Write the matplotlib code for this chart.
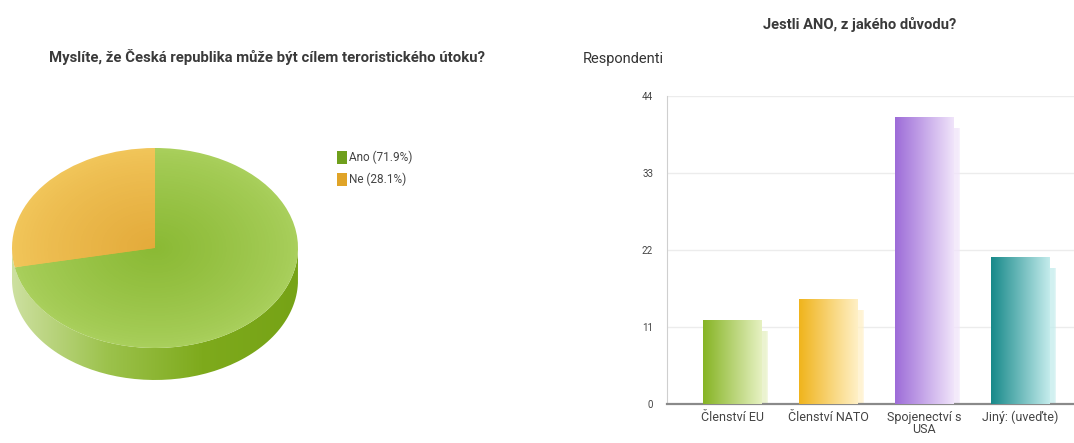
import numpy as np
import matplotlib.pyplot as plt
from matplotlib.patches import Patch
from matplotlib.path import Path
from matplotlib.colors import LinearSegmentedColormap, to_rgb

# data
pie_labels = ['Ano (71.9%)', 'Ne (28.1%)']
pie_values = [71.9, 28.1]

bar_labels = ['Členství EU', 'Členství NATO', 'Spojenectví s\nUSA', 'Jiný: (uveďte)']
bar_values = [12, 15, 41, 21]

pie_top = ['#a9cf5c', '#f1c55a']
pie_mid = ['#8ab934', '#e3aa3a']
pie_legend = ['#6f9f1c', '#e0a428']
bar_left = ['#86b424', '#f0b41c', '#9d6cd8', '#17898a']
bar_right = ['#e6f1c2', '#fff0c6', '#f0e4fa', '#c4ecec']

plt.rcParams['font.family'] = ['Roboto', 'DejaVu Sans']

W, H = 1074, 443
fig = plt.figure(figsize=(W / 100, H / 100), dpi=100)
fig.patch.set_facecolor('white')


def px_axes(x0, y0, x1, y1):
    # box in pixels, measured from the top left corner
    return fig.add_axes([x0 / W, 1 - y1 / H, (x1 - x0) / W, (y1 - y0) / H])


def mix(c1, c2, t):
    a, b = np.array(to_rgb(c1)), np.array(to_rgb(c2))
    return tuple(a + (b - a) * t)


# ---- 3d pie ----
cx, cy, rx, ry, depth = 155, 248, 143, 100, 32
ax1 = px_axes(cx - rx, cy - ry - 5, cx + rx, cy + ry + depth + 5)
ax1.set_axis_off()
dep = depth / ry

# side of the pie (horizontal gradient)
t = np.linspace(np.pi, 2 * np.pi, 100)
top_edge = np.column_stack([np.cos(t), np.sin(t)])
bot_edge = np.column_stack([np.cos(t[::-1]), np.sin(t[::-1]) - dep])
side = Path(np.vstack([top_edge, bot_edge, top_edge[:1]]))
side_cmap = LinearSegmentedColormap.from_list('side', ['#cde0a0', '#9cc24c', '#7eaa1c', '#76a316'])
im = ax1.imshow(np.linspace(0, 1, 256)[None, :], extent=[-1, 1, -1 - dep, 0.05],
                aspect='auto', cmap=side_cmap, zorder=1)
im.set_clip_path(side, transform=ax1.transData)

# top face with radial shading
for r in np.linspace(1, 0.02, 40):
    k = (1 - r) ** 0.8
    cols = [mix(pie_top[i], pie_mid[i], k) for i in range(2)]
    ax1.pie(pie_values, colors=cols, startangle=90, counterclock=False, radius=r,
            wedgeprops=dict(linewidth=0, antialiased=True))
ax1.set_aspect('auto')
ax1.set_xlim(-1, 1)
ax1.set_ylim(-1 - dep - 5 / ry, 1 + 5 / ry)

handles = [Patch(facecolor=c, edgecolor='none') for c in pie_legend]
fig.legend(handles, pie_labels, loc='upper left', bbox_to_anchor=(326 / W, 1 - 140 / H),
           frameon=False, fontsize=8.5, handlelength=0.85, handleheight=1.3,
           handletextpad=0.2, labelspacing=0.75, labelcolor='#444444')

fig.text(267 / W, 1 - 57 / H, 'Myslíte, že Česká republika může být cílem teroristického útoku?',
         ha='center', va='center', fontsize=10.7, fontweight='bold', color='#3a3a3a')

# ---- bar chart ----
ax2 = px_axes(667, 96, 1074, 404)
x = np.arange(len(bar_values))
bw = 0.61

# soft shadow to the right
for k, a in enumerate([0.25, 0.35, 0.5]):
    ax2.bar(x + 0.05 + 0.01 * k, np.array(bar_values) - 1.6, width=bw, color=bar_right,
            alpha=a, linewidth=0, zorder=2)

bars = ax2.bar(x, bar_values, width=bw, color='none', linewidth=0, zorder=3)
for b, c1, c2 in zip(bars, bar_left, bar_right):
    cm = LinearSegmentedColormap.from_list('g', [c1, c2])
    g = ax2.imshow(np.linspace(0, 1, 256)[None, :],
                   extent=[b.get_x(), b.get_x() + b.get_width(), 0, b.get_height()],
                   aspect='auto', cmap=cm, zorder=3)
    g.set_clip_path(b)

ax2.set_xlim(-0.68, 3.56)
ax2.set_ylim(0, 44)
ax2.set_aspect('auto')
ax2.set_yticks([0, 11, 22, 33, 44])
ax2.set_xticks(x)
ax2.set_xticklabels(bar_labels, linespacing=0.9)
ax2.tick_params(axis='y', length=0, labelsize=7, pad=10, labelcolor='#444444')
ax2.tick_params(axis='x', length=0, labelsize=9, pad=5, labelcolor='#444444')
ax2.grid(axis='y', color='#ececec', linewidth=1, zorder=0)
ax2.set_axisbelow(True)
for s in ['top', 'right']:
    ax2.spines[s].set_visible(False)
ax2.spines['left'].set_color('#cfcfcf')
ax2.spines['bottom'].set_color('#8a8a8a')
ax2.spines['bottom'].set_linewidth(1.6)

fig.text(583 / W, 1 - 59 / H, 'Respondenti', ha='left', va='center', fontsize=10.5, color='#333333')
fig.text(860 / W, 1 - 25 / H, 'Jestli ANO, z jakého důvodu?', ha='center', va='center',
         fontsize=10.6, fontweight='bold', color='#3a3a3a')

fig.savefig('out.png', dpi=100, facecolor='white')
